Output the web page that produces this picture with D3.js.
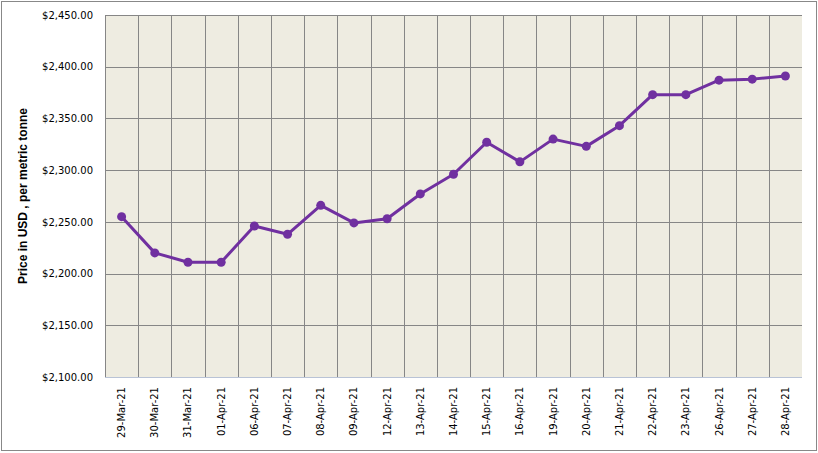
<!DOCTYPE html>
<html><head><meta charset="utf-8">
<script src="https://cdn.jsdelivr.net/npm/d3@7/dist/d3.min.js"></script>
<style>html,body{margin:0;padding:0;background:#fff;}</style>
</head><body>
<svg id="c" width="818" height="453"></svg>
<script>
const categories = ["29-Mar-21","30-Mar-21","31-Mar-21","01-Apr-21","06-Apr-21","07-Apr-21","08-Apr-21","09-Apr-21","12-Apr-21","13-Apr-21","14-Apr-21","15-Apr-21","16-Apr-21","19-Apr-21","20-Apr-21","21-Apr-21","22-Apr-21","23-Apr-21","26-Apr-21","27-Apr-21","28-Apr-21"];
const prices = [2255,2220,2211,2211,2246,2238,2266,2249,2253,2277,2296,2327,2308,2330,2323,2343,2373,2373,2387,2388,2391];
const yTicks = [2100,2150,2200,2250,2300,2350,2400,2450];
const yTitle = "Price in USD , per metric tonne";

const svg = d3.select("#c");
const m = {left:105, top:15, right:802, bottom:377};
svg.append("rect").attr("x",1.5).attr("y",1.5).attr("width",815).attr("height",449)
  .attr("fill","#fff").attr("stroke","#888").attr("stroke-width",1);

const x = d3.scaleBand().domain(categories).range([m.left,m.right]);
const y = d3.scaleLinear().domain([2100,2450]).range([m.bottom,m.top]);

svg.append("rect").attr("x",m.left).attr("y",m.top).attr("width",m.right-m.left).attr("height",m.bottom-m.top).attr("fill","#EEECE1");

const g = svg.append("g");
// horizontal gridlines
g.selectAll(".hg").data(yTicks.filter(d=>d>2100)).enter().append("line")
  .attr("x1",m.left).attr("x2",m.right).attr("y1",d=>Math.round(y(d))+0.5).attr("y2",d=>Math.round(y(d))+0.5)
  .attr("stroke","#868686").attr("stroke-width",1);
// vertical gridlines at category boundaries
g.selectAll(".vg").data(categories).enter().append("line")
  .attr("x1",d=>Math.round(x(d))+0.5).attr("x2",d=>Math.round(x(d))+0.5).attr("y1",m.top).attr("y2",m.bottom)
  .attr("stroke","#868686").attr("stroke-width",1);
// bottom axis line
svg.append("line").attr("x1",m.left).attr("x2",m.right).attr("y1",m.bottom+0.5).attr("y2",m.bottom+0.5).attr("stroke","#B9C3D6");

// y labels
const yAxis = d3.axisLeft(y).tickValues(yTicks).tickSize(0).tickPadding(12).tickFormat(d=>d3.format("$,.2f")(d));
const ya = svg.append("g").attr("transform",`translate(${m.left},0)`).call(yAxis);
ya.select(".domain").remove();
ya.selectAll("text").attr("font-family","DejaVu Sans").attr("font-size","10px").attr("fill","#000");

// x labels
const xAxis = d3.axisBottom(x).tickSize(0).tickPadding(0);
const xa = svg.append("g").attr("transform",`translate(0,${m.bottom})`).call(xAxis);
xa.select(".domain").remove();
xa.selectAll("text").attr("font-family","DejaVu Sans").attr("font-size","10px").attr("fill","#000")
  .attr("transform","rotate(-90)").attr("text-anchor","end").attr("x",-10).attr("y",0).attr("dy","0.35em");

// y title
svg.append("text").attr("transform",`translate(27,${(m.top+m.bottom)/2}) rotate(-90)`)
  .attr("text-anchor","middle").attr("font-family","Liberation Sans").attr("font-weight","bold").attr("font-size","12px").text(yTitle);

// line
const cx = d=>x(d)+x.bandwidth()/2;
const line = d3.line().x((d,i)=>cx(categories[i])).y(d=>y(d));
svg.append("path").datum(prices).attr("d",line).attr("fill","none").attr("stroke","#7030A0").attr("stroke-width",3).attr("stroke-linejoin","round");
svg.selectAll(".pt").data(prices).enter().append("circle")
  .attr("cx",(d,i)=>cx(categories[i])).attr("cy",d=>y(d)).attr("r",4.5).attr("fill","#7030A0");
</script>
</body></html>
